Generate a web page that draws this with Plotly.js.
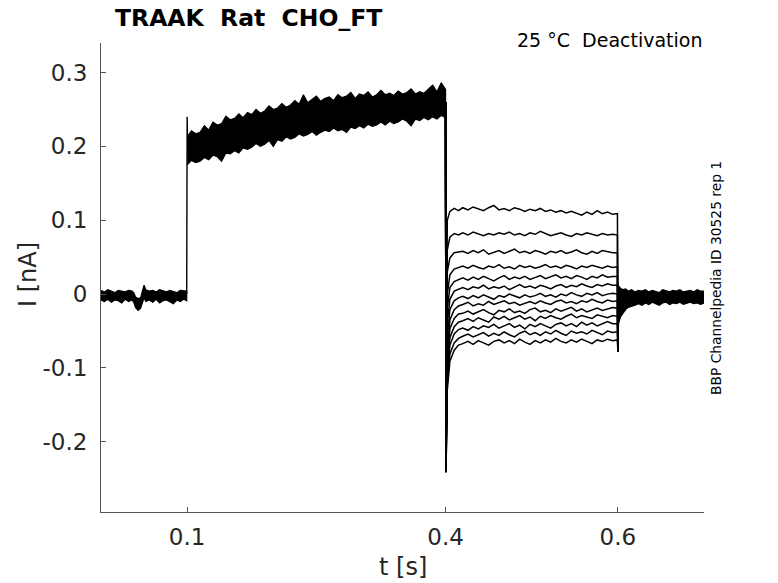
<!DOCTYPE html>
<html>
<head>
<meta charset="utf-8">
<script src="https://cdn.plot.ly/plotly-3.0.1.min.js"></script>
<style>
  html, body { margin: 0; padding: 0; background: #fff; }
  #chart { width: 778px; height: 583px; }
</style>
</head>
<body>
<div id="chart"></div>
<script>
// Holding baseline before the activation step (nA)
const baseT = [0.000, 0.004, 0.008, 0.012, 0.016, 0.020, 0.024, 0.028, 0.032, 0.036,
  0.038, 0.040, 0.043, 0.046, 0.048, 0.050, 0.052, 0.056, 0.060, 0.064,
  0.068, 0.072, 0.076, 0.080, 0.084, 0.088, 0.092, 0.096, 0.0995];
const baseHi = [0.005, 0.003, 0.006, 0.004, 0.002, 0.005, 0.004, 0.003, 0.005, 0.004,
  0.002, -0.004, -0.006, -0.005, 0.004, 0.012, 0.006, 0.004, 0.005, 0.003,
  0.006, 0.004, 0.003, 0.005, 0.004, 0.002, 0.005, 0.004, 0.004];
const baseLo = [-0.008, -0.010, -0.007, -0.011, -0.008, -0.009, -0.012, -0.007, -0.010, -0.008,
  -0.011, -0.018, -0.022, -0.019, -0.012, -0.005, -0.010, -0.008, -0.011, -0.007,
  -0.012, -0.009, -0.008, -0.011, -0.013, -0.008, -0.010, -0.007, -0.009];

// Onset transient at 0.1 s
const onsetT = [0.0995, 0.1000, 0.1004, 0.1008];
const onsetI = [0.000, 0.240, 0.205, 0.195];

// Activation step, all sweeps overlap (upper / lower edge of the band)
const actT = [0.100, 0.105, 0.110, 0.115, 0.120, 0.125, 0.130, 0.135, 0.140, 0.145,
  0.150, 0.155, 0.160, 0.165, 0.170, 0.175, 0.180, 0.185, 0.190, 0.195,
  0.200, 0.205, 0.210, 0.215, 0.220, 0.225, 0.230, 0.235, 0.240, 0.245,
  0.250, 0.255, 0.260, 0.265, 0.270, 0.275, 0.280, 0.285, 0.290, 0.295,
  0.300, 0.305, 0.310, 0.315, 0.320, 0.325, 0.330, 0.335, 0.340, 0.345,
  0.350, 0.355, 0.360, 0.365, 0.370, 0.375, 0.380, 0.385, 0.390, 0.395, 0.400];
const actHi = [0.213, 0.221, 0.217, 0.219, 0.228, 0.222, 0.233, 0.229, 0.231, 0.241,
  0.236, 0.238, 0.244, 0.239, 0.246, 0.243, 0.250, 0.245, 0.248, 0.255,
  0.250, 0.252, 0.258, 0.253, 0.256, 0.262, 0.257, 0.270, 0.259, 0.263,
  0.268, 0.261, 0.265, 0.267, 0.262, 0.270, 0.266, 0.268, 0.273, 0.265,
  0.271, 0.269, 0.274, 0.267, 0.270, 0.276, 0.270, 0.272, 0.269, 0.275,
  0.271, 0.273, 0.278, 0.271, 0.274, 0.272, 0.277, 0.283, 0.274, 0.286, 0.277];
const actLo = [0.175, 0.181, 0.178, 0.180, 0.185, 0.182, 0.188, 0.186, 0.180, 0.191,
  0.190, 0.194, 0.191, 0.198, 0.196, 0.199, 0.204, 0.200, 0.203, 0.208,
  0.200, 0.209, 0.207, 0.213, 0.210, 0.212, 0.217, 0.214, 0.216, 0.220,
  0.215, 0.219, 0.222, 0.220, 0.225, 0.221, 0.223, 0.219, 0.226, 0.224,
  0.228, 0.225, 0.230, 0.227, 0.229, 0.233, 0.229, 0.234, 0.231, 0.233,
  0.237, 0.234, 0.228, 0.237, 0.235, 0.239, 0.236, 0.240, 0.237, 0.242, 0.239];
const actEndI = 0.260;

// Deactivation tails, one row per sweep
const tailT = [0.4005, 0.402, 0.405, 0.410, 0.415,
  0.420, 0.426, 0.432, 0.438, 0.444, 0.450, 0.456, 0.462, 0.468, 0.474,
  0.480, 0.486, 0.492, 0.498, 0.504, 0.510, 0.516, 0.522, 0.528, 0.534,
  0.540, 0.546, 0.552, 0.558, 0.564, 0.570, 0.576, 0.582, 0.588, 0.594,
  0.5995];
const tailCurrents = [
  [-0.200, 0.100, 0.112, 0.116, 0.113,
    0.117, 0.114, 0.118, 0.115, 0.113, 0.117, 0.120, 0.114, 0.116, 0.113,
    0.117, 0.115, 0.112, 0.115, 0.113, 0.116, 0.112, 0.114, 0.111, 0.113,
    0.110, 0.112, 0.109, 0.107, 0.111, 0.108, 0.113, 0.109, 0.111, 0.108, 0.109],
  [-0.210, 0.060, 0.077, 0.082, 0.080,
    0.083, 0.080, 0.084, 0.081, 0.079, 0.082, 0.080, 0.083, 0.081, 0.084,
    0.080, 0.082, 0.079, 0.083, 0.081, 0.085, 0.082, 0.079, 0.081, 0.083,
    0.080, 0.078, 0.082, 0.080, 0.083, 0.081, 0.079, 0.082, 0.080, 0.081, 0.080],
  [-0.210, 0.030, 0.049, 0.056, 0.057,
    0.058, 0.055, 0.059, 0.056, 0.060, 0.054, 0.057, 0.059, 0.055, 0.058,
    0.061, 0.056, 0.058, 0.055, 0.059, 0.057, 0.054, 0.058, 0.056, 0.059,
    0.055, 0.057, 0.060, 0.056, 0.054, 0.058, 0.055, 0.059, 0.057, 0.056, 0.056],
  [-0.220, 0.000, 0.026, 0.034, 0.036,
    0.038, 0.035, 0.039, 0.036, 0.034, 0.038, 0.036, 0.040, 0.035, 0.037,
    0.034, 0.039, 0.036, 0.038, 0.035, 0.037, 0.040, 0.036, 0.038, 0.035,
    0.039, 0.037, 0.034, 0.038, 0.036, 0.039, 0.037, 0.035, 0.038, 0.036, 0.037],
  [-0.220, -0.020, 0.009, 0.017, 0.020,
    0.022, 0.019, 0.023, 0.020, 0.024, 0.021, 0.018, 0.022, 0.025, 0.020,
    0.023, 0.021, 0.024, 0.020, 0.022, 0.025, 0.021, 0.023, 0.026, 0.022,
    0.024, 0.021, 0.025, 0.023, 0.020, 0.024, 0.022, 0.026, 0.023, 0.024, 0.024],
  [-0.230, -0.040, -0.007, 0.004, 0.007,
    0.009, 0.006, 0.010, 0.008, 0.012, 0.007, 0.010, 0.008, 0.011, 0.006,
    0.010, 0.013, 0.009, 0.011, 0.008, 0.012, 0.010, 0.007, 0.011, 0.013,
    0.009, 0.012, 0.010, 0.014, 0.011, 0.009, 0.013, 0.011, 0.014, 0.012, 0.012],
  [-0.230, -0.060, -0.021, -0.009, -0.005,
    -0.003, -0.006, -0.002, -0.005, -0.001, -0.004, -0.007, -0.002, -0.004, 0.000,
    -0.003, -0.005, -0.001, -0.004, -0.002, 0.001, -0.003, -0.001, -0.004, 0.000,
    -0.002, 0.002, -0.001, -0.003, 0.001, -0.001, 0.002, -0.002, 0.000, 0.001, 0.000],
  [-0.230, -0.080, -0.035, -0.021, -0.016,
    -0.014, -0.011, -0.016, -0.013, -0.015, -0.010, -0.014, -0.012, -0.009, -0.013,
    -0.011, -0.015, -0.012, -0.010, -0.013, -0.009, -0.012, -0.014, -0.010, -0.008,
    -0.012, -0.010, -0.013, -0.009, -0.011, -0.007, -0.010, -0.012, -0.008, -0.010, -0.009],
  [-0.235, -0.090, -0.047, -0.033, -0.027,
    -0.026, -0.023, -0.027, -0.024, -0.021, -0.025, -0.028, -0.022, -0.024, -0.020,
    -0.025, -0.023, -0.026, -0.021, -0.019, -0.024, -0.022, -0.025, -0.020, -0.023,
    -0.021, -0.018, -0.023, -0.020, -0.024, -0.021, -0.019, -0.022, -0.020, -0.018, -0.019],
  [-0.235, -0.100, -0.059, -0.044, -0.038,
    -0.036, -0.033, -0.037, -0.032, -0.035, -0.038, -0.031, -0.034, -0.030, -0.035,
    -0.032, -0.029, -0.034, -0.031, -0.036, -0.030, -0.033, -0.029, -0.032, -0.034,
    -0.030, -0.027, -0.032, -0.029, -0.031, -0.033, -0.028, -0.030, -0.032, -0.029, -0.030],
  [-0.240, -0.110, -0.069, -0.054, -0.048,
    -0.046, -0.049, -0.044, -0.047, -0.043, -0.045, -0.041, -0.046, -0.043, -0.040,
    -0.045, -0.042, -0.047, -0.041, -0.044, -0.040, -0.043, -0.046, -0.041, -0.039,
    -0.043, -0.040, -0.044, -0.038, -0.042, -0.039, -0.043, -0.040, -0.037, -0.040, -0.040],
  [-0.240, -0.120, -0.081, -0.066, -0.060,
    -0.057, -0.054, -0.058, -0.055, -0.052, -0.057, -0.053, -0.056, -0.051, -0.055,
    -0.058, -0.053, -0.050, -0.055, -0.052, -0.056, -0.051, -0.054, -0.049, -0.053,
    -0.056, -0.050, -0.053, -0.051, -0.054, -0.049, -0.052, -0.055, -0.050, -0.052, -0.051],
  [-0.242, -0.130, -0.091, -0.076, -0.069,
    -0.067, -0.064, -0.068, -0.063, -0.066, -0.069, -0.064, -0.062, -0.066, -0.063,
    -0.067, -0.061, -0.065, -0.068, -0.063, -0.066, -0.062, -0.065, -0.060, -0.064,
    -0.066, -0.062, -0.065, -0.061, -0.064, -0.067, -0.062, -0.064, -0.061, -0.063, -0.062]
];
const offT = 0.600;
const offDipI = -0.078;

// Back at holding potential after 0.6 s
const postT = [0.600, 0.6008, 0.603, 0.606, 0.609, 0.612, 0.616, 0.620, 0.624, 0.628,
  0.632, 0.636, 0.640, 0.644, 0.648, 0.652, 0.656, 0.660, 0.664, 0.668,
  0.672, 0.676, 0.680, 0.684, 0.688, 0.692, 0.696, 0.700];
const postHi = [0.010, 0.011, 0.008, 0.006, 0.007, 0.004, 0.006, 0.003, 0.005, 0.004,
  0.006, 0.003, 0.005, 0.004, 0.002, 0.006, 0.004, 0.003, 0.005, 0.004,
  0.006, 0.003, 0.004, 0.005, 0.003, 0.006, 0.004, 0.004];
const postLo = [-0.078, -0.040, -0.031, -0.026, -0.021, -0.018, -0.016, -0.015, -0.013, -0.015,
  -0.012, -0.014, -0.011, -0.013, -0.015, -0.012, -0.011, -0.014, -0.012, -0.013,
  -0.011, -0.014, -0.012, -0.011, -0.013, -0.012, -0.014, -0.012];

const xTickVals = [0.1, 0.4, 0.6];
const xTickText = ["0.1", "0.4", "0.6"];
const yTickVals = [-0.2, -0.1, 0, 0.1, 0.2, 0.3];
const yTickText = ["-0.2", "-0.1", "0", "0.1", "0.2", "0.3"];

// A noisy band drawn as a closed polygon between its two edges
function band(t, hi, lo) {
  return {
    x: t.concat(t.slice().reverse()),
    y: hi.concat(lo.slice().reverse()),
    type: "scatter",
    mode: "lines",
    fill: "toself",
    fillcolor: "#000",
    line: { color: "#000", width: 1.2 },
    hoverinfo: "skip",
  };
}

const traces = [band(baseT, baseHi, baseLo), band(actT, actHi, actLo), band(postT, postHi, postLo)];

traces.push({
  x: onsetT,
  y: onsetI,
  type: "scatter",
  mode: "lines",
  line: { color: "#000", width: 1.4 },
});

tailCurrents.forEach((row) => {
  traces.push({
    x: [0.4].concat(tailT, [offT]),
    y: [actEndI].concat(row, [offDipI]),
    type: "scatter",
    mode: "lines",
    line: { color: "#000", width: 1.5 },
  });
});

const tickFont = { family: "DejaVu Sans", size: 23, color: "#262626" };

const layout = {
  width: 778,
  height: 583,
  margin: { l: 101, r: 74, t: 43, b: 71 },
  paper_bgcolor: "#fff",
  plot_bgcolor: "#fff",
  showlegend: false,
  title: {
    text: "<b>TRAAK  Rat  CHO_FT</b>",
    font: { family: "DejaVu Sans", size: 23.5, color: "#000" },
    x: 115 / 778,
    xanchor: "left",
    xref: "container",
    y: 1 - 18 / 583,
    yanchor: "middle",
    yref: "container",
  },
  xaxis: {
    range: [0, 0.7],
    tickvals: xTickVals,
    ticktext: xTickText,
    ticks: "inside",
    ticklen: 5,
    tickcolor: "#555",
    showline: true,
    linecolor: "#555",
    linewidth: 1,
    showgrid: false,
    zeroline: false,
    tickfont: tickFont,
    ticklabelstandoff: 4,
  },
  yaxis: {
    range: [-0.295, 0.34],
    tickvals: yTickVals,
    ticktext: yTickText,
    ticks: "inside",
    ticklen: 5,
    tickcolor: "#555",
    showline: true,
    linecolor: "#555",
    linewidth: 1,
    showgrid: false,
    zeroline: false,
    tickfont: tickFont,
    ticklabelstandoff: 8,
  },
  annotations: [
    {
      text: "25 °C  Deactivation",
      xref: "paper", yref: "paper",
      x: 1, y: (512 - 40) / 469,
      xanchor: "right", yanchor: "middle",
      showarrow: false,
      font: { family: "DejaVu Sans", size: 19, color: "#000" },
    },
    {
      text: "BBP Channelpedia ID 30525 rep 1",
      xref: "paper", yref: "paper",
      x: (716 - 101) / 603, y: (512 - 278) / 469,
      xanchor: "center", yanchor: "middle",
      textangle: -90,
      showarrow: false,
      font: { family: "DejaVu Sans", size: 13.8, color: "#000" },
    },
    {
      text: "I [nA]",
      xref: "paper", yref: "paper",
      x: (28 - 101) / 603, y: (512 - 275) / 469,
      xanchor: "center", yanchor: "middle",
      textangle: -90,
      showarrow: false,
      font: { family: "DejaVu Sans", size: 24, color: "#262626" },
    },
    {
      text: "t [s]",
      xref: "paper", yref: "paper",
      x: (403 - 101) / 603, y: (512 - 567) / 469,
      xanchor: "center", yanchor: "middle",
      showarrow: false,
      font: { family: "DejaVu Sans", size: 24, color: "#262626" },
    },
  ],
};

Plotly.newPlot("chart", traces, layout, { displayModeBar: false, staticPlot: true });
</script>
</body>
</html>
